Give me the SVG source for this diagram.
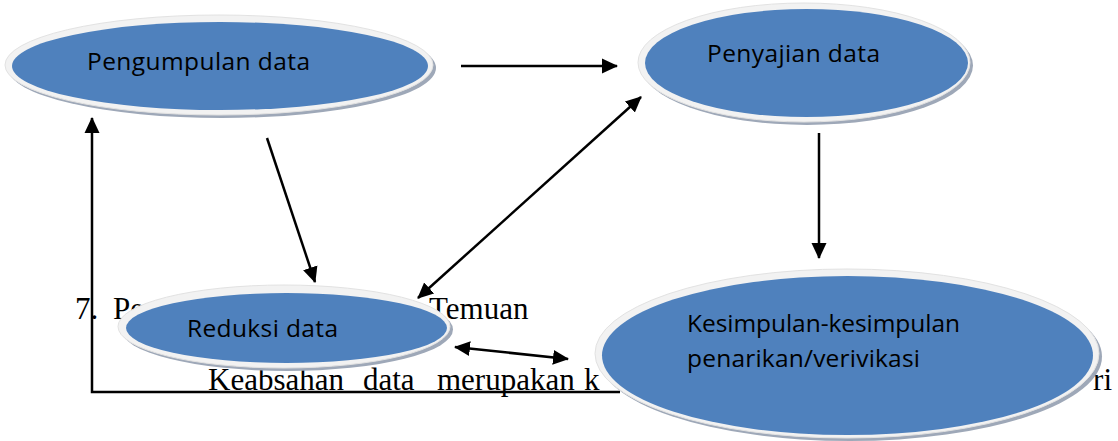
<svg xmlns="http://www.w3.org/2000/svg" width="1118" height="441" viewBox="0 0 1118 441">
<style>
.bg{font-family:"Liberation Serif","Times New Roman",serif;font-size:31px;fill:#000}
.lbl{font-family:"Open Sans","Noto Sans",sans-serif;font-size:24.5px;fill:#000}
.sh{fill:#9ea8b8}
.ring{fill:#f2f2f2;stroke:#e2e2e2;stroke-width:1}
.core{fill:#4f81bd}
.ln{stroke:#000;stroke-width:2.5;fill:none}
</style>
<defs>
<marker id="ah" markerUnits="userSpaceOnUse" markerWidth="16" markerHeight="16" viewBox="0 0 16 16" refX="15" refY="8" orient="auto-start-reverse">
<path d="M0,0.5 L16,8 L0,15.5 Z" fill="#000"/>
</marker>
</defs>
<g id="background-text">
<text class="bg" y="319"><tspan x="75">7.</tspan><tspan x="113">Pe</tspan><tspan x="429">Temuan</tspan></text>
<text class="bg" y="390"><tspan x="208">Keabsahan</tspan><tspan x="363">data</tspan><tspan x="437">merupakan</tspan><tspan x="584">k</tspan></text>
<text class="bg" x="1112" y="390" text-anchor="end">ri</text>
</g>
<g id="connectors">
<line class="ln" x1="461" y1="66" x2="617" y2="66" marker-end="url(#ah)"/>
<line class="ln" x1="267" y1="138" x2="315" y2="282" marker-end="url(#ah)"/>
<line class="ln" x1="418" y1="298" x2="641" y2="97" marker-start="url(#ah)" marker-end="url(#ah)"/>
<line class="ln" x1="819" y1="133" x2="819" y2="258" marker-end="url(#ah)"/>
<line class="ln" x1="455" y1="347" x2="568" y2="359" marker-start="url(#ah)" marker-end="url(#ah)"/>
<polyline class="ln" points="620,392 92,392 92,118" marker-end="url(#ah)"/>
</g>
<g id="pengumpulan">
<ellipse class="sh" cx="222" cy="68" rx="214" ry="50"/>
<ellipse class="ring" cx="219" cy="65" rx="214" ry="50"/>
<ellipse class="core" cx="220" cy="66" rx="208" ry="44"/>
<text class="lbl" x="87" y="70" textLength="223">Pengumpulan data</text>
</g>
<g id="penyajian">
<ellipse class="sh" cx="807" cy="65.5" rx="166" ry="59.5"/>
<ellipse class="ring" cx="804" cy="62.5" rx="166" ry="59.5"/>
<ellipse class="core" cx="806.5" cy="63" rx="161.5" ry="54"/>
<text class="lbl" x="707" y="62" textLength="173">Penyajian data</text>
</g>
<g id="reduksi">
<ellipse class="sh" cx="287" cy="329.5" rx="166" ry="41.5"/>
<ellipse class="ring" cx="284" cy="326.5" rx="166" ry="41.5"/>
<ellipse class="core" cx="286.5" cy="328" rx="160.5" ry="35"/>
<text class="lbl" x="187" y="337" textLength="151">Reduksi data</text>
</g>
<g id="kesimpulan">
<ellipse class="sh" cx="850" cy="356.5" rx="252" ry="84.5"/>
<ellipse class="ring" cx="847" cy="353.5" rx="252" ry="84.5"/>
<ellipse class="core" cx="847.5" cy="355.5" rx="245.5" ry="79.5"/>
<text class="lbl" x="687" y="332" textLength="273">Kesimpulan-kesimpulan</text>
<text class="lbl" x="687" y="367" textLength="233">penarikan/verivikasi</text>
</g>
</svg>
